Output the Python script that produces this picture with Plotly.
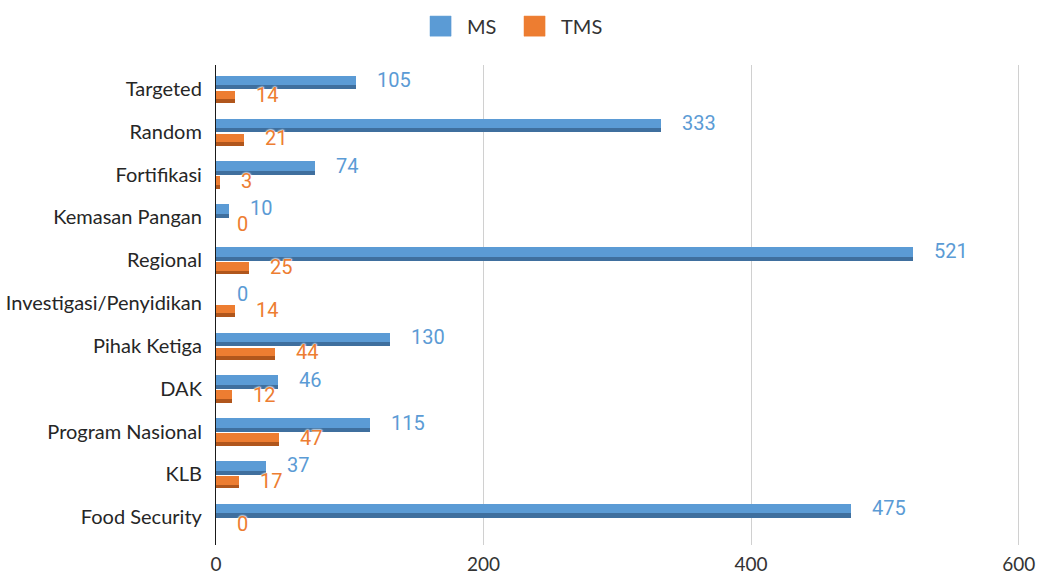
import plotly.graph_objects as go

categories = ["Targeted", "Random", "Fortifikasi", "Kemasan Pangan", "Regional",
              "Investigasi/Penyidikan", "Pihak Ketiga", "DAK", "Program Nasional",
              "KLB", "Food Security"]
ms_values = [105, 333, 74, 10, 521, 0, 130, 46, 115, 37, 475]
tms_values = [14, 21, 3, 0, 25, 14, 44, 12, 47, 17, 0]
x_ticks = [0, 200, 400, 600]
series_names = ["MS", "TMS"]

MS_LIGHT, MS_DARK = "#5B9BD5", "#3F6F9E"
TMS_LIGHT, TMS_DARK = "#ED7D31", "#B0561C"

idx = list(range(len(categories)))
fig = go.Figure()


def add_series(name, values, light, dark, offset, width):
    # darker lower face (3D look)
    fig.add_trace(go.Bar(x=values, y=idx, orientation="h", offset=offset, width=width,
                         marker=dict(color=dark, line=dict(width=0)),
                         showlegend=False, hoverinfo="skip"))
    # lighter upper face
    fig.add_trace(go.Bar(x=values, y=idx, orientation="h", offset=offset, width=width * 0.7,
                         marker=dict(color=light, line=dict(width=0)),
                         name=name, showlegend=False))


add_series(series_names[0], ms_values, MS_LIGHT, MS_DARK, -0.31, 0.32)
add_series(series_names[1], tms_values, TMS_LIGHT, TMS_DARK, 0.04, 0.29)

halo = "0 0 2px white, 0 0 2px white, 0 0 2px white"
annotations = []
for i, (m, t) in enumerate(zip(ms_values, tms_values)):
    annotations.append(dict(x=m, y=i - 0.21, text=str(m), showarrow=False, xanchor="left",
                            yanchor="middle", xshift=19,
                            font=dict(family="Roboto", size=20, color=MS_LIGHT, shadow=halo)))
    annotations.append(dict(x=t, y=i + 0.15, text=str(t), showarrow=False, xanchor="left",
                            yanchor="middle", xshift=19,
                            font=dict(family="Roboto", size=20, color=TMS_LIGHT, shadow=halo)))

# legend (drawn with shapes + text to get the large swatches)
shapes = []
legend_items = [(series_names[0], MS_LIGHT, 0.2662), (series_names[1], TMS_LIGHT, 0.3831)]
for name, color, x0 in legend_items:
    shapes.append(dict(type="rect", xref="paper", yref="paper", x0=x0, x1=x0 + 0.0262,
                       y0=1.060, y1=1.102, fillcolor=color, line=dict(width=0.5, color=color),
                       layer="above"))
    annotations.append(dict(xref="paper", yref="paper", x=x0 + 0.0262, y=1.081, text=name,
                            showarrow=False, xanchor="left", yanchor="middle", xshift=14,
                            font=dict(family="Lato", size=20, color="#333333")))

fig.update_layout(
    width=1038, height=576,
    margin=dict(l=216, r=18, t=65, b=31, autoexpand=False),
    paper_bgcolor="white", plot_bgcolor="white",
    barmode="overlay",
    bargap=0,
    showlegend=False,
    annotations=annotations,
    shapes=shapes,
    xaxis=dict(range=[0, 601], tickvals=x_ticks, showgrid=True, gridcolor="#D0D0D0",
               gridwidth=1, zeroline=False, showline=False, automargin=False,
               ticks="", ticklabelstandoff=6,
               tickfont=dict(family="Lato", size=19, color="#333333")),
    yaxis=dict(range=[10.65, -0.56], tickvals=idx, ticktext=categories, showgrid=False,
               zeroline=False, showline=True, linecolor="#1a1a1a", linewidth=1.2,
               ticks="", ticklabelstandoff=9, automargin=False,
               tickfont=dict(family="Lato", size=20, color="#262626")),
)

fig.write_html("out.html", config={"displayModeBar": False},
               post_script="document.body.style.margin='0';")
